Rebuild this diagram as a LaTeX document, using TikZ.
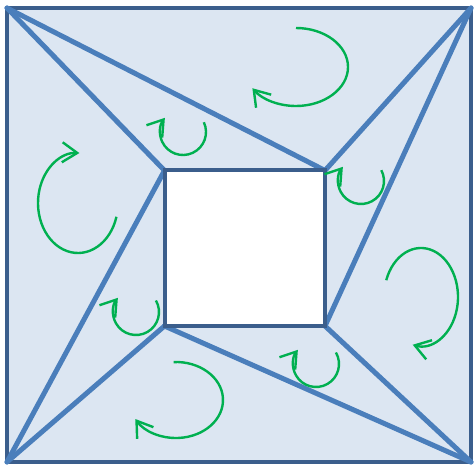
\documentclass[tikz,border=0pt]{standalone}
\usepackage{tikz}
\usetikzlibrary{arrows.meta,positioning,calc}
\definecolor{FrameBlue}{HTML}{3B5E8C}
\definecolor{PaneFill}{HTML}{DCE6F2}
\definecolor{RibBlue}{HTML}{4A7EBB}
\definecolor{SpinGreen}{HTML}{00B050}

\begin{document}
\begin{tikzpicture}[
  x=1pt,y=-1pt,
  frame/.style={draw=FrameBlue,line width=4pt},
  rib/.style={draw=RibBlue,line width=5pt,line cap=round},
  spin/.style={draw=SpinGreen,line width=2.4pt,-{Straight Barb[length=15pt,width=20pt]}}
]
\useasboundingbox (0,0) rectangle (476,465);
% outer and inner corners
\coordinate (oTL) at (7,8);
\coordinate (oTR) at (471,8);
\coordinate (oBR) at (471,462);
\coordinate (oBL) at (7,462);
\coordinate (iTL) at (164.5,170.5);
\coordinate (iTR) at (325,170.5);
\coordinate (iBR) at (325,326);
\coordinate (iBL) at (164.5,326);
\filldraw[frame,fill=PaneFill] (oTL) rectangle (oBR);
% ribs
\draw[rib] (oTL)--(iTL);
\draw[rib] (oTL)--(iTR);
\draw[rib] (oTR)--(iTR);
\draw[rib] (oTR)--(iBR);
\draw[rib] (oBR)--(iBR);
\draw[rib] (oBR)--(iBL);
\draw[rib] (oBL)--(iBL);
\draw[rib] (oBL)--(iTL);
\filldraw[frame,fill=white] (iTL) rectangle (iBR);
% big rotations
\coordinate (bigT) at (296,67);
\coordinate (bigL) at (78,203);
\coordinate (bigR) at (421,297);
\coordinate (bigB) at (176,400);
\draw[spin] ($(bigT)+(-90:52 and 39)$) arc[start angle=-90,end angle=147,x radius=52,y radius=39];
\draw[spin] ($(bigL)+(16:40 and 50)$) arc[start angle=16,end angle=272,x radius=40,y radius=50];
\draw[spin] ($(bigR)+(-160:37 and 49)$) arc[start angle=-160,end angle=103,x radius=37,y radius=49];
\draw[spin] ($(bigB)+(-93:47 and 38)$) arc[start angle=-93,end angle=150,x radius=47,y radius=38];
% small rotations
\coordinate (smT) at (183,132);
\coordinate (smR) at (361,181);
\coordinate (smB) at (316,364);
\coordinate (smL) at (136,312);
\draw[spin] ($(smT)+(-25:23)$) arc[start angle=-25,end angle=218,radius=23];
\draw[spin] ($(smR)+(-28:23)$) arc[start angle=-28,end angle=218,radius=23];
\draw[spin] ($(smB)+(-30:23)$) arc[start angle=-30,end angle=218,radius=23];
\draw[spin] ($(smL)+(-30:23)$) arc[start angle=-30,end angle=218,radius=23];
\end{tikzpicture}
\end{document}
